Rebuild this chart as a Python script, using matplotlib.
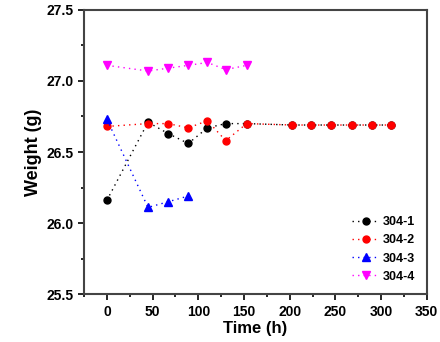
import matplotlib
matplotlib.use("Agg")
import matplotlib.pyplot as plt
from matplotlib.ticker import MultipleLocator

plt.rcParams['font.family'] = ['Liberation Sans', 'DejaVu Sans']
plt.rcParams['font.weight'] = 'bold'

time_all = [0, 45, 67, 89, 110, 130, 153, 203, 223, 245, 268, 290, 311]
w_304_1 = [26.16, 26.71, 26.63, 26.56, 26.67, 26.70, 26.70, 26.69, 26.69, 26.69, 26.69, 26.69, 26.69]
w_304_2 = [26.68, 26.70, 26.70, 26.67, 26.72, 26.58, 26.70, 26.69, 26.69, 26.69, 26.69, 26.69, 26.69]
time_3 = [0, 45, 67, 89]
w_304_3 = [26.73, 26.11, 26.15, 26.19]
time_4 = [0, 45, 67, 89, 110, 130, 153]
w_304_4 = [27.11, 27.07, 27.09, 27.11, 27.13, 27.08, 27.11]
labels = ['304-1', '304-2', '304-3', '304-4']

fig = plt.figure(figsize=(4.4, 3.42), dpi=100)
ax = fig.add_axes([0.191, 0.140, 0.779, 0.831])

ms = 5
dots = (0, (1, 3))
ax.plot(time_all, w_304_1, linestyle=dots, color='black', marker='o', ms=ms, lw=1, label=labels[0])
ax.plot(time_all, w_304_2, linestyle=dots, color='red', marker='o', ms=ms, lw=1, label=labels[1])
ax.plot(time_3, w_304_3, linestyle=dots, color='blue', marker='^', ms=ms + 1, lw=1, label=labels[2])
ax.plot(time_4, w_304_4, linestyle=dots, color='magenta', marker='v', ms=ms + 1, lw=1, label=labels[3])

ax.set_xlim(-25, 350)
ax.set_ylim(25.5, 27.5)
ax.xaxis.set_major_locator(MultipleLocator(50))
ax.xaxis.set_minor_locator(MultipleLocator(25))
ax.yaxis.set_major_locator(MultipleLocator(0.5))
ax.yaxis.set_minor_locator(MultipleLocator(0.25))
ax.tick_params(which='both', direction='out', top=False, right=False, labelsize=10, width=1.2)
ax.tick_params(which='major', length=4)
ax.tick_params(which='minor', length=2.5)
ax.set_xticks([0, 50, 100, 150, 200, 250, 300, 350])
ax.set_xticklabels(['0', '50', '100', '150', '200', '250', '300', '350'], fontweight='bold')
ax.set_yticks([25.5, 26.0, 26.5, 27.0, 27.5])
ax.set_yticklabels(['25.5', '26.0', '26.5', '27.0', '27.5'], fontweight='bold')
for s in ax.spines.values():
    s.set_linewidth(1.5)
    s.set_color('#444444')

ax.set_xlabel('Time (h)', fontsize=12, fontweight='bold', labelpad=2)
ax.set_ylabel('Weight (g)', fontsize=13, fontweight='bold', labelpad=3)

leg = ax.legend(loc='lower right', frameon=False, handlelength=2.2,
                handletextpad=0.3, labelspacing=0.5, bbox_to_anchor=(1.0, 0.0),
                prop={'weight': 'bold', 'size': 9})

fig.savefig('out.png', dpi=100)
